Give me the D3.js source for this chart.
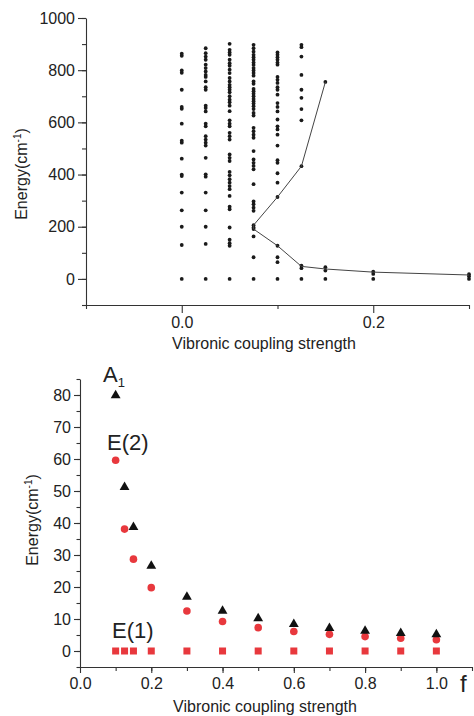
<!DOCTYPE html>
<html><head><meta charset="utf-8">
<script src="https://cdnjs.cloudflare.com/ajax/libs/d3/7.8.5/d3.min.js"></script>
<style>
body{margin:0;background:#fff;}
svg{display:block;font-family:Arial,"Liberation Sans",sans-serif;}
.axis path,.axis line{stroke:#333;stroke-width:1.1;}
.axis text{fill:#222;font-size:16px;font-family:Arial,"Liberation Sans",sans-serif;}
</style></head>
<body>
<svg id="c" width="474" height="716"></svg>
<script>
// ---------- Top panel data ----------
const topX = [0, 0.025, 0.05, 0.075, 0.1, 0.125, 0.15, 0.2, 0.3];
const lev0    = [0,130,200,263,331,394,400,461,522,530,595,652,659,725,790,799,855,863];
const lev025  = [0,134,200,263,331,392,401,464,511,522,534,547,585,595,642,655,664,725,735,757,774,782,795,808,821,840,852,865,884];
const lev05   = [0,127,137,150,197,267,277,318,344,356,369,382,397,410,452,464,477,534,547,560,585,595,608,643,664,677,687,700,715,725,735,744,757,770,789,802,817,827,840,859,868,878,901];
const lev075  = [0,83,163,191,197,206,261,273,286,297,363,420,433,445,458,490,541,553,566,579,626,636,651,662,672,681,690,700,710,719,728,748,757,779,789,799,808,820,829,840,850,859,871,884,897];
const lev10   = [0,64,83,127,314,369,405,445,455,511,553,573,585,611,642,659,674,706,725,735,751,763,774,821,829,840,850,859,868];
const lev125  = [0,41,51,432,608,651,694,725,782,852,888,897];
const lev15   = [0,32,45,755];
const lev20   = [0,19,28];
const lev30   = [0,10,18];
const topLevels = [lev0, lev025, lev05, lev075, lev10, lev125, lev15, lev20, lev30];
const lineX = [0.15,0.125,0.1,0.075,0.075,0.1,0.125,0.15,0.2,0.3];
const lineE = [755,432,314,206,191,127,48,38,26,15];
const topYTicks = [0,200,400,600,800,1000];
const topXTicks = [0.0,0.2];

// ---------- Bottom panel data ----------
const fVals = [0.1,0.125,0.15,0.2,0.3,0.4,0.5,0.6,0.7,0.8,0.9,1.0];
const A1 = [79.9,51.2,38.7,26.6,16.9,12.5,10.2,8.4,7.1,6.3,5.6,5.2];
const E2 = [59.6,38.1,28.7,19.8,12.5,9.2,7.3,6.1,5.2,4.5,4.0,3.5];
const E1 = [0,0,0,0,0,0,0,0,0,0,0,0];
const botYTicks = [0,10,20,30,40,50,60,70,80];
const botXTicks = [0.0,0.2,0.4,0.6,0.8,1.0];

const svg = d3.select("#c");
const red = "#e8383d";

// ===== Top panel =====
const tx = d3.scaleLinear().domain([-0.1,0.3]).range([86,469]);
const ty = d3.scaleLinear().domain([-100,1000]).range([305,18]);

svg.append("g").attr("class","axis").attr("transform","translate(86,0)")
  .call(d3.axisLeft(ty).tickValues(d3.range(-100,1001,100)).tickSize(4).tickFormat(""))
  .call(g=>g.select(".domain").remove());
svg.append("g").attr("class","axis").attr("transform","translate(86,0)")
  .call(d3.axisLeft(ty).tickValues(topYTicks).tickSize(8).tickSizeOuter(0).tickPadding(3).tickFormat(d3.format("d")));
svg.append("g").attr("class","axis").attr("transform","translate(0,305)")
  .call(d3.axisBottom(tx).tickValues([-0.1,0.1,0.3]).tickSize(4).tickFormat(""))
  .call(g=>g.select(".domain").remove());
svg.append("g").attr("class","axis").attr("transform","translate(0,305)")
  .call(d3.axisBottom(tx).tickValues(topXTicks).tickSize(8).tickSizeOuter(0).tickPadding(4).tickFormat(d3.format(".1f")));

const topPts = [];
topX.forEach((x,i)=>topLevels[i].forEach(e=>topPts.push([x,e])));
svg.append("g").selectAll("circle").data(topPts).join("circle")
  .attr("cx",d=>tx(d[0])).attr("cy",d=>ty(d[1])).attr("r",1.9).attr("fill","#1a1a1a");

svg.append("path").datum(lineX.map((x,i)=>[x,lineE[i]]))
  .attr("d",d3.line().x(d=>tx(d[0])).y(d=>ty(d[1])))
  .attr("fill","none").attr("stroke","#444").attr("stroke-width",1);

svg.append("text").attr("x",264).attr("y",349).attr("text-anchor","middle")
  .attr("font-size",16).attr("fill","#222").text("Vibronic coupling strength");
const tl = svg.append("text").attr("transform","translate(27,174) rotate(-90)")
  .attr("text-anchor","middle").attr("font-size",16).attr("fill","#222");
tl.append("tspan").text("Energy(cm");
tl.append("tspan").attr("dy",-6).attr("font-size",10).text("-1");
tl.append("tspan").attr("dy",6).text(")");

// ===== Bottom panel =====
const bx = d3.scaleLinear().domain([0,1.1]).range([80,472]);
const by = d3.scaleLinear().domain([-5,85]).range([667,379]);

svg.append("g").attr("class","axis").attr("transform","translate(80,0)")
  .call(d3.axisLeft(by).tickValues(d3.range(-5,86,5)).tickSize(3.5).tickFormat(""))
  .call(g=>g.select(".domain").remove());
svg.append("g").attr("class","axis").attr("transform","translate(80,0)")
  .call(d3.axisLeft(by).tickValues(botYTicks).tickSize(6).tickSizeOuter(0).tickPadding(3).tickFormat(d3.format("d")));
svg.append("g").attr("class","axis").attr("transform","translate(0,667)")
  .call(d3.axisBottom(bx).tickValues(d3.range(1,12).map(i=>i/10)).tickSize(4).tickFormat(""))
  .call(g=>g.select(".domain").remove());
svg.append("g").attr("class","axis").attr("transform","translate(0,667)")
  .call(d3.axisBottom(bx).tickValues(botXTicks).tickSize(6).tickSizeOuter(0).tickPadding(5).tickFormat(d3.format(".1f")));

svg.append("g").selectAll("rect").data(fVals.map((f,i)=>[f,E1[i]])).join("rect")
  .attr("x",d=>bx(d[0])-3.5).attr("y",d=>by(d[1])-3.5).attr("width",7).attr("height",7).attr("fill",red);
svg.append("g").selectAll("circle").data(fVals.map((f,i)=>[f,E2[i]])).join("circle")
  .attr("cx",d=>bx(d[0])).attr("cy",d=>by(d[1])).attr("r",3.8).attr("fill",red);
svg.append("g").selectAll("path").data(fVals.map((f,i)=>[f,A1[i]])).join("path")
  .attr("d",d3.symbol(d3.symbolTriangle,42))
  .attr("transform",d=>`translate(${bx(d[0])},${by(d[1])})`).attr("fill","#111");

const lab = (x,y,t)=>svg.append("text").attr("x",x).attr("y",y).attr("font-size",22).attr("fill","#222").text(t);
const a = lab(103,382,"A");
a.append("tspan").attr("dy",5).attr("font-size",13).text("1");
lab(107,450,"E(2)");
lab(112,638,"E(1)");
svg.append("text").attr("x",460).attr("y",692).attr("font-size",24).attr("fill","#222").text("f");

svg.append("text").attr("x",265).attr("y",712).attr("text-anchor","middle")
  .attr("font-size",16).attr("fill","#222").text("Vibronic coupling strength");
const bl = svg.append("text").attr("transform","translate(38,520) rotate(-90)")
  .attr("text-anchor","middle").attr("font-size",16).attr("fill","#222");
bl.append("tspan").text("Energy(cm");
bl.append("tspan").attr("dy",-6).attr("font-size",10).text("-1");
bl.append("tspan").attr("dy",6).text(")");
</script>
</body></html>
